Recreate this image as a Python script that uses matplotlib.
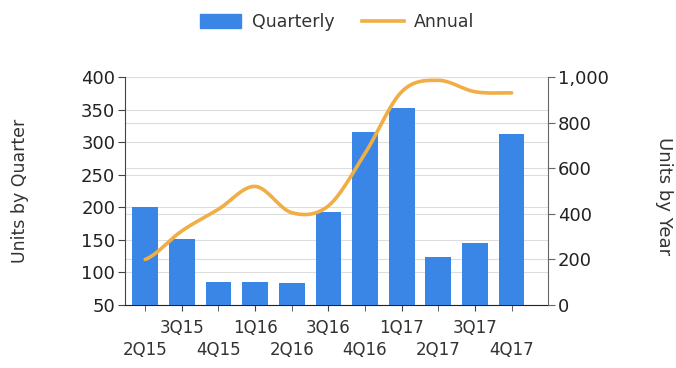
import matplotlib
matplotlib.use("Agg")
import matplotlib.pyplot as plt
import numpy as np
from matplotlib.lines import Line2D
from matplotlib.patches import Patch

quarters = ["2Q15", "3Q15", "4Q15", "1Q16", "2Q16", "3Q16",
            "4Q16", "1Q17", "2Q17", "3Q17", "4Q17"]
quarterly = [200, 152, 85, 85, 84, 193, 316, 353, 124, 145, 313]
annual = [200, 325, 420, 520, 405, 435, 665, 935, 985, 935, 930]

BLUE = "#3A86E6"
ORANGE = "#F0AE45"
TEXT = "#333333"

plt.rcParams["font.family"] = ["DejaVu Sans"]


def smooth(xs, ys, n=20, tension=0.5):
    # cardinal spline through the points, for drawing only
    xs = np.asarray(xs, float)
    ys = np.asarray(ys, float)
    px, py = [], []
    for i in range(len(xs) - 1):
        x0, x1 = xs[i], xs[i + 1]
        y0, y1 = ys[i], ys[i + 1]
        m0 = tension * (ys[min(i + 1, len(ys) - 1)] - ys[max(i - 1, 0)])
        m1 = tension * (ys[min(i + 2, len(ys) - 1)] - ys[i])
        t = np.linspace(0, 1, n, endpoint=False)
        h00 = 2 * t**3 - 3 * t**2 + 1
        h10 = t**3 - 2 * t**2 + t
        h01 = -2 * t**3 + 3 * t**2
        h11 = t**3 - t**2
        px.extend(x0 + (x1 - x0) * t)
        py.extend(h00 * y0 + h10 * m0 + h01 * y1 + h11 * m1)
    px.append(xs[-1])
    py.append(ys[-1])
    return np.array(px), np.array(py)


fig = plt.figure(figsize=(6.76, 3.68), dpi=100)
ax = fig.add_axes([0.185, 0.171, 0.626, 0.620])
ax2 = ax.twinx()

left_lim = (50, 400)
right_lim = (0, 1000)

x = np.arange(len(quarters))
ax.bar(x, [v - 50 for v in quarterly], bottom=50, width=0.7, color=BLUE, zorder=3)
ax.set_ylim(*left_lim)
ax.set_yticks(range(50, 401, 50))
ax.set_xlim(-0.55, 11.0)

# alternate tick labels over two rows
ax.set_xticks(x[1::2], [quarters[i] for i in x[1::2]])
ax.set_xticks(x[0::2], [quarters[i] for i in x[0::2]], minor=True)
ax.tick_params(axis="x", which="major", length=4, color="#444444", pad=6,
               labelsize=12, labelcolor=TEXT)
ax.tick_params(axis="x", which="minor", length=4, color="#444444", pad=22,
               labelsize=12, labelcolor=TEXT)

ax2.set_ylim(*right_lim)
ax2.set_yticks(range(0, 1001, 200))
ax2.set_yticklabels([f"{v:,}" for v in range(0, 1001, 200)])
sx, sy = smooth(x, annual)
ax2.plot(sx, sy, color=ORANGE, lw=2.6, zorder=4, solid_capstyle="round")

# grid lines for both scales, kept behind the bars
for t in ax.get_yticks():
    ax.axhline(t, color="#dddddd", lw=0.8, zorder=0)
for t in ax2.get_yticks():
    frac = (t - right_lim[0]) / (right_lim[1] - right_lim[0])
    ax.axhline(left_lim[0] + frac * (left_lim[1] - left_lim[0]),
               color="#dddddd", lw=0.8, zorder=0)

for a in (ax, ax2):
    a.spines["top"].set_visible(False)
ax.spines["left"].set_color("#444444")
ax2.spines["right"].set_color("#666666")
ax.spines["bottom"].set_color("#222222")
ax2.spines["bottom"].set_visible(False)
ax2.spines["left"].set_visible(False)
ax.spines["right"].set_visible(False)

ax.tick_params(axis="y", labelsize=13, length=5, color="#444444", pad=2, labelcolor="#222222")
ax2.tick_params(axis="y", labelsize=13, length=5, color="#666666", pad=2, labelcolor="#222222")

fig.text(20 / 676, 1 - 191 / 368, "Units by Quarter", rotation=90, fontsize=12.5,
         color=TEXT, ha="center", va="center")
fig.text(664 / 676, 1 - 196 / 368, "Units by Year", rotation=-90, fontsize=13,
         color=TEXT, ha="center", va="center")

handles = [Patch(color=BLUE), Line2D([0], [0], color=ORANGE, lw=2.6)]
fig.legend(handles, ["Quarterly", "Annual"], loc="center", ncol=2,
           bbox_to_anchor=(337 / 676, 1 - 22 / 368), frameon=False, fontsize=12.5,
           handlelength=2.4, handleheight=0.8, columnspacing=1.6, handletextpad=0.6,
           labelcolor=TEXT)

fig.savefig("out.png", dpi=100)
